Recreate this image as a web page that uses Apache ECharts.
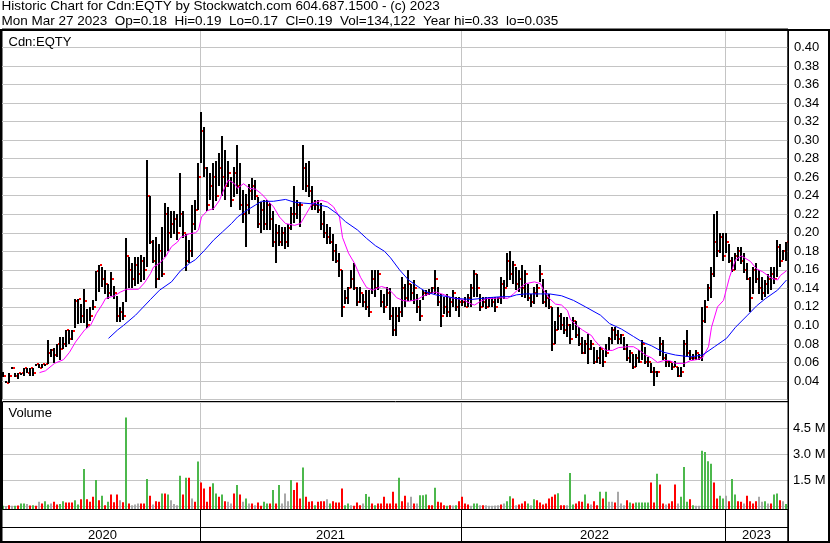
<!DOCTYPE html>
<html><head><meta charset="utf-8">
<script src="https://cdn.jsdelivr.net/npm/echarts@6/dist/echarts.min.js"></script>
<style>html,body{margin:0;padding:0;background:#fff}#c{width:830px;height:543px}</style>
</head><body><div id="c"></div>
<script>
const headerLine1 = 'Historic Chart for Cdn:EQTY by Stockwatch.com 604.687.1500 - (c) 2023';
const headerLine2 = 'Mon Mar 27 2023  Op=0.18  Hi=0.19  Lo=0.17  Cl=0.19  Vol=134,122  Year hi=0.33  lo=0.035';
const priceTitle = 'Cdn:EQTY';
const volTitle = 'Volume';
const years = ['2020', '2021', '2022', '2023'];
const yearStart = [0, 66, 153, 241]; // bar index where each year begins

// price bars (cents): high, low, close
const hiC = [
5.0,4.0,4.9,5.5,4.9,4.9,4.9,5.4,5.4,5.4,
5.4,5.8,5.8,5.8,5.8,8.4,7.5,7.6,8.0,8.8,
8.8,9.5,9.5,9.5,12.9,12.9,12.3,13.9,11.8,12.0,
12.7,15.9,16.5,16.3,16.0,14.5,15.8,14.3,13.2,12.0,
12.5,19.4,17.4,16.7,17.4,17.4,17.6,17.4,27.9,24.0,
19.2,19.5,18.8,20.6,23.2,22.8,22.4,22.4,22.0,26.4,
22.4,19.9,19.2,23.0,23.5,27.5,33.0,31.4,27.1,26.4,
27.5,27.8,28.6,30.4,28.9,27.8,26.0,27.1,29.5,27.5,
24.6,24.2,25.3,25.9,25.7,23.9,23.3,23.5,23.5,23.2,
22.4,21.0,20.8,20.6,20.6,21.0,22.8,25.0,23.5,23.3,
29.5,27.5,27.8,25.0,23.5,23.5,23.2,22.4,21.0,20.6,
19.9,18.8,17.8,16.0,13.8,14.1,16.0,16.7,14.1,14.1,
13.4,13.8,13.8,16.0,16.0,16.0,13.8,13.4,14.1,14.0,
12.0,12.0,12.0,15.2,14.5,16.0,14.5,14.9,13.4,12.7,
13.8,13.8,13.9,14.1,16.0,14.1,13.4,13.1,13.4,13.1,
13.8,13.1,13.1,12.7,13.1,13.4,14.5,16.0,15.6,13.4,
13.1,13.1,13.1,13.1,13.1,13.1,15.2,14.9,17.8,18.0,
17.0,16.3,16.0,16.5,16.0,14.5,13.4,14.1,14.5,16.5,
15.0,13.8,13.4,12.0,10.5,12.0,11.3,10.9,10.9,10.2,
10.9,10.5,9.8,8.7,8.4,9.1,8.4,7.7,7.3,7.7,
7.3,8.0,8.7,9.8,9.8,9.5,9.1,8.7,8.0,7.3,
6.9,6.9,7.3,8.4,7.7,6.6,5.9,5.5,5.1,8.7,
8.4,6.9,6.2,5.9,6.2,5.5,5.5,8.4,9.5,7.3,
6.9,7.3,6.9,12.0,12.7,14.5,16.3,22.0,22.4,20.0,
20.0,20.0,18.8,17.4,17.8,18.5,18.5,17.8,16.7,15.2,
16.3,16.7,16.0,15.2,14.9,15.6,16.3,16.3,19.2,18.8,
18.1,19.0];
const loC = [
4.5,3.8,3.8,5.4,4.5,4.2,4.8,4.5,4.9,4.5,
4.5,5.7,5.4,5.4,5.7,5.8,6.6,6.0,6.6,6.3,
7.5,7.7,8.0,8.4,9.8,10.2,10.2,10.2,9.8,10.5,
11.6,12.7,13.6,14.1,13.4,12.9,13.2,12.9,10.4,10.4,
10.6,12.5,14.0,14.0,14.3,14.5,14.7,14.9,16.3,18.8,
16.7,14.0,14.9,15.2,17.4,18.1,19.5,19.9,19.2,20.6,
19.5,15.9,16.7,17.4,20.3,22.4,27.5,26.0,22.4,23.5,
22.4,23.5,25.0,23.9,23.5,25.0,22.8,23.9,24.2,22.4,
21.0,18.5,22.1,23.5,23.5,20.6,19.9,20.3,20.3,20.3,
18.5,16.8,18.5,18.5,18.2,18.5,20.3,21.0,21.4,20.6,
24.6,24.4,23.9,22.4,22.4,22.1,20.3,19.5,18.8,18.8,
17.0,16.7,15.2,10.9,12.3,12.3,14.1,13.8,12.0,12.4,
12.0,11.6,10.9,13.4,13.1,13.8,12.0,11.3,12.0,10.5,
8.9,8.9,10.4,10.9,12.0,12.7,12.7,12.3,11.3,10.4,
12.7,13.1,13.3,13.4,13.4,12.0,9.8,11.3,10.9,10.9,
12.0,11.6,10.9,12.0,12.0,12.0,12.0,13.1,13.1,11.6,
12.0,11.8,12.0,12.0,11.5,12.4,12.3,12.9,14.1,14.9,
14.5,13.8,13.6,13.0,13.0,12.7,12.0,12.3,13.1,14.7,
12.3,12.0,11.8,7.3,8.0,9.5,9.5,9.1,8.7,8.0,
9.5,8.7,7.7,6.9,6.9,5.9,7.3,5.9,5.9,5.9,
5.5,6.6,7.3,8.0,8.4,8.0,8.0,7.3,6.2,5.9,
5.3,5.5,5.9,6.2,5.9,5.5,4.8,3.4,4.4,6.6,
6.2,5.5,5.5,5.1,5.5,4.4,4.4,5.5,6.6,6.2,
6.2,6.2,6.2,6.2,10.2,12.7,13.0,15.2,17.4,17.8,
17.0,17.8,16.7,15.8,16.0,17.0,16.7,15.6,14.9,11.4,
13.4,14.5,13.4,12.7,13.1,13.4,13.8,14.5,15.2,16.3,
17.0,17.0];
const clC = [
4.5,3.8,4.5,5.4,4.5,4.9,4.9,5.4,4.9,5.4,
4.9,5.8,5.4,5.8,5.8,7.0,7.3,6.8,8.0,7.5,
8.0,9.5,8.5,9.4,12.6,12.9,11.0,12.6,10.0,11.0,
12.0,15.9,16.5,15.0,14.5,13.5,15.0,13.5,11.0,11.5,
11.0,17.5,16.0,15.0,16.5,15.5,17.0,16.0,24.0,19.0,
17.0,15.0,18.0,15.5,22.0,20.0,21.0,21.5,20.0,22.0,
20.0,17.0,18.0,21.0,22.5,26.0,31.0,27.0,23.0,25.0,
26.0,24.0,27.0,26.0,25.0,26.5,23.5,26.5,25.0,23.0,
22.0,23.0,24.5,25.0,24.0,21.0,22.5,21.0,23.0,21.5,
19.0,20.0,19.0,20.0,19.0,20.5,22.0,22.0,23.0,23.0,
27.0,25.0,24.5,23.0,23.0,22.5,21.0,20.0,19.5,19.0,
18.0,17.0,16.0,12.0,13.0,14.0,15.0,14.0,12.5,13.5,
12.5,12.0,11.5,15.0,14.0,15.5,12.5,12.0,13.5,11.0,
9.5,11.0,11.5,14.0,13.0,14.5,13.5,14.0,12.0,11.0,
13.5,13.5,13.5,14.0,15.0,12.5,11.0,12.0,11.5,12.5,
13.5,12.0,12.5,12.5,12.0,13.0,14.0,15.5,14.0,12.0,
12.5,12.0,13.0,12.5,12.0,13.0,14.5,14.0,17.0,15.5,
16.5,14.5,15.0,14.0,15.5,13.0,12.5,13.5,14.0,15.5,
12.5,13.0,12.0,8.0,9.5,11.0,10.0,9.5,10.0,8.5,
10.5,9.0,8.0,7.0,8.0,7.5,8.0,6.0,6.5,7.5,
6.0,7.0,8.5,9.5,9.0,8.5,9.0,7.5,6.5,7.0,
5.5,6.5,6.0,8.0,6.0,6.0,5.0,5.0,5.0,8.0,
6.5,6.0,6.0,5.5,5.5,4.5,5.0,8.0,7.0,6.5,
6.5,7.0,6.5,10.5,12.0,14.0,15.5,19.0,18.0,19.5,
17.5,19.0,17.0,16.0,17.5,18.0,17.0,16.0,15.0,13.0,
16.0,15.0,14.0,13.5,14.5,15.0,15.5,15.0,18.5,17.0,
18.0,19.0];

// volume (thousands of shares) and direction: g = up, r = down, n = unchanged
const volK = [
20,15,58,20,30,40,155,155,130,40,
60,30,252,155,290,100,155,252,100,120,
290,220,220,220,349,100,407,2150,407,252,
542,1510,349,600,58,252,680,230,680,349,
230,5130,155,58,100,155,155,155,1570,600,
100,290,252,736,736,678,349,120,60,1760,
678,1650,1650,445,252,2580,1375,1030,252,1120,
1320,736,542,678,290,252,155,736,1220,678,
252,445,155,155,60,220,30,252,155,155,
930,155,1220,155,736,290,1510,930,1375,445,
2230,542,252,290,58,252,290,290,407,155,
290,220,220,1030,58,155,58,30,220,58,
155,700,542,155,58,155,155,542,155,155,
833,155,1650,290,600,220,542,155,155,639,
639,678,58,58,1060,252,220,58,30,58,
40,58,290,542,155,100,20,155,155,58,
58,58,20,20,40,58,100,155,290,570,
445,58,100,155,290,155,58,407,349,220,
100,155,445,542,678,750,58,58,58,1920,
100,155,290,252,678,155,100,290,58,833,
445,833,252,252,220,833,155,58,349,220,
155,220,220,220,220,220,1375,220,1870,1250,
155,100,155,290,1250,155,542,2270,252,407,
58,20,20,3200,3130,2600,2460,1375,445,600,
445,600,290,1570,678,290,252,155,600,290,
155,290,542,252,290,155,155,678,736,349,
290,134];
const volDir = [
'gnrngrggnr','grnrggnrrg','grrrggrgrr','rgrgrgrrrn','rgrnnnrrgr',
'nrrgrgnnng','rgrnrgrrrr','ggrgrnnrgr','ngnrnrrggr','grgnnngrrr',
'grrrgrrrng','rrrrggnrrr','nggrgrrrrr','rrgrrnnrng','ggrrgrrrgr',
'ngrrrrnggn','rnnnnnrngg','rnrrrgngrr','rrrrrgrrng','grrrgrnrrg',
'rgnnrnnnrg','rgggggrrgr','rnrrrngggr','gnnggggrrg','gnrggrrnrr',
'rrnngnrggr','ng'].join('');

// moving averages: [bar index, cents]
const maFast = [[12,4.9],[14,5.1],[17,5.9],[20,6.3],[22,7.1],[24,8.2],[27,9.5],[29,10.0],[31,11.3],[33,12.3],
[34,12.9],[37,13.2],[39,13.6],[41,13.9],[45,13.9],[47,14.6],[49,15.6],[50,16.3],[52,16.7],[54,17.4],
[56,18.5],[58,19.0],[59,19.5],[62,19.9],[64,20.0],[65,20.3],[66,21.7],[68,22.4],[70,22.6],[72,23.5],
[74,25.1],[75,25.7],[77,25.3],[78,24.8],[80,25.3],[82,24.8],[84,24.7],[86,24.2],[88,23.5],[90,22.8],
[92,21.7],[94,21.0],[97,20.8],[99,21.0],[101,22.1],[103,23.2],[106,23.5],[108,23.3],[110,22.8],[112,21.7],
[113,19.5],[115,17.8],[117,16.7],[119,15.2],[121,14.1],[123,13.8],[126,14.2],[128,14.0],[130,13.4],[131,13.0],
[133,12.7],[135,12.6],[138,12.8],[140,13.2],[142,13.4],[144,13.6],[147,13.3],[149,13.0],[151,12.9],[153,12.8],
[156,12.3],[157,12.2],[159,12.6],[161,12.9],[163,12.9],[166,13.0],[168,12.9],[170,13.4],[172,14.0],[174,14.5],
[177,14.7],[179,14.5],[180,13.8],[182,12.9],[184,12.3],[186,12.2],[188,11.6],[189,10.6],[191,10.0],[193,9.5],
[196,8.9],[197,8.4],[199,7.7],[201,7.3],[203,7.3],[205,7.6],[208,7.7],[210,7.7],[212,7.3],[214,6.8],
[216,6.5],[218,6.0],[220,6.2],[222,6.2],[224,5.9],[227,5.9],[229,6.2],[231,6.3],[233,6.5],[235,7.7],
[236,9.8],[238,12.0],[240,12.7],[242,15.2],[244,17.1],[246,17.5],[249,16.9],[251,16.1],[253,15.8],[256,15.1],
[258,14.9],[259,15.4],[261,15.9]];
const maSlow = [[35,8.6],[38,9.5],[40,10.0],[44,11.1],[49,12.8],[52,13.8],[56,14.7],[59,15.9],[62,16.7],[64,17.1],
[67,18.1],[70,19.2],[73,20.1],[76,21.0],[78,21.7],[81,22.4],[84,23.0],[86,23.4],[90,23.4],[94,23.6],
[97,23.3],[100,23.2],[104,23.1],[108,22.8],[111,22.1],[114,21.2],[118,20.3],[121,19.4],[124,18.6],[127,18.0],
[129,17.3],[132,16.0],[135,14.9],[139,14.0],[141,13.6],[144,13.3],[148,13.1],[151,12.9],[156,12.8],[159,12.9],
[162,13.0],[166,13.1],[169,13.1],[171,13.3],[174,13.4],[179,13.4],[182,13.4],[186,13.2],[190,12.7],[194,12.0],
[199,11.1],[202,10.2],[206,9.6],[210,8.8],[213,8.2],[216,7.8],[220,7.1],[224,6.8],[229,6.6],[233,6.8],
[237,7.7],[241,8.6],[244,9.8],[248,11.1],[251,12.1],[254,12.9],[258,13.8],[261,14.9]];

const FONT = "'Liberation Sans', Arial, sans-serif";
const N = hiC.length;
const cats = hiC.map((_, i) => String(i));
const yearOf = i => { let y = 0; yearStart.forEach((s, k) => { if (i >= s) y = k; }); return y; };
const yearLabelIdx = yearStart.map((s, k) => Math.floor((s + (k + 1 < yearStart.length ? yearStart[k + 1] : N)) / 2));
const isYearStart = idx => idx > 0 && yearStart.indexOf(idx) >= 0;
const dirColor = { g: '#4cb84c', r: '#ff0000', n: '#a8a8a8' };

const ohlc = hiC.map((h, i) => [i, h / 100, loC[i] / 100, clC[i] / 100]);
const vols = volK.map((v, i) => ({ value: [i, v * 1000], itemStyle: { color: dirColor[volDir[i]] } }));
const fastLine = maFast.map(p => [p[0], p[1] / 100]);
const slowLine = maSlow.map(p => [p[0], p[1] / 100]);

const GRID_GRAY = '#c4c4c4';
const hidden = { show: false };

function renderBar(params, api) {
  const i = api.value(0);
  const ph = api.coord([i, api.value(1)]);
  const pl = api.coord([i, api.value(2)]);
  const pc = api.coord([i, api.value(3)]);
  const x0 = Math.round(ph[0] - 1.5);
  const top = Math.round(Math.min(ph[1], pl[1]));
  const h = Math.max(Math.round(Math.abs(pl[1] - ph[1])), 2);
  return { type: 'group', children: [
    { type: 'rect', shape: { x: x0 + 2, y: Math.round(pc[1]) - 1, width: 2, height: 2 }, style: { fill: '#ff0000' } },
    { type: 'rect', shape: { x: x0, y: top, width: 2, height: h }, style: { fill: '#000' } }
  ] };
}
function renderVol(params, api) {
  const p = api.coord([api.value(0), api.value(1)]);
  const cs = params.coordSys;
  const bottom = cs.y + cs.height + 3.2;
  return { type: 'rect', shape: { x: Math.round(p[0] - 1.5), y: p[1], width: 2, height: bottom - p[1] },
    style: { fill: api.visual('color') } };
}

const chart = echarts.init(document.getElementById('c'));
const txt = { fontSize: 13, fontWeight: 'normal', color: '#000', fontFamily: FONT };
const headTxt = Object.assign({}, txt, { fontSize: 13.5 });
chart.setOption({
  animation: false,
  backgroundColor: '#fff',
  title: [
    { text: headerLine1, left: 1.5, top: -0.5, padding: 0, textStyle: headTxt },
    { text: headerLine2, left: 1.5, top: 14.5, padding: 0, textStyle: headTxt },
    { text: priceTitle, left: 8.5, top: 35.5, padding: 0, textStyle: txt },
    { text: volTitle, left: 8.5, top: 407, padding: 0, textStyle: txt }
  ],
  grid: [
    { left: 2, top: 29, width: 786, height: 370.5, show: true, borderColor: '#000', borderWidth: 1, backgroundColor: 'transparent' },
    { left: 2, top: 402.4, width: 786, height: 103.8, show: false },
    { left: 2, top: 509.5, width: 786, height: 32, show: true, borderColor: '#000', borderWidth: 1, backgroundColor: 'transparent' }
  ],
  xAxis: [
    { gridIndex: 0, type: 'category', data: cats, boundaryGap: true, axisLine: hidden, axisTick: hidden, axisLabel: hidden,
      splitLine: { show: true, interval: isYearStart, lineStyle: { color: GRID_GRAY, width: 1 } } },
    { gridIndex: 1, type: 'category', data: cats, boundaryGap: true, axisLine: hidden, axisTick: hidden, axisLabel: hidden,
      splitLine: { show: true, interval: isYearStart, lineStyle: { color: GRID_GRAY, width: 1 } } },
    { gridIndex: 2, type: 'category', data: cats, boundaryGap: true, axisLine: hidden, axisTick: hidden,
      axisLabel: { show: true, inside: true, margin: 0, interval: idx => yearLabelIdx.indexOf(idx) >= 0,
        formatter: (v, idx) => years[yearOf(idx)], fontSize: 13, color: '#000', fontFamily: FONT },
      splitLine: { show: true, interval: isYearStart, lineStyle: { color: '#000', width: 1 } } }
  ],
  yAxis: [
    { gridIndex: 0, type: 'value', position: 'right', min: 0.02, max: 0.42, interval: 0.02,
      axisLine: hidden, axisTick: hidden,
      axisLabel: { formatter: v => v.toFixed(2), showMinLabel: false, showMaxLabel: false, margin: 6, fontSize: 13, color: '#000', fontFamily: FONT },
      splitLine: { show: true, lineStyle: { color: GRID_GRAY, width: 1 } } },
    { gridIndex: 1, type: 'value', position: 'right', min: 0, max: 6000000, interval: 1500000,
      axisLine: hidden, axisTick: hidden,
      axisLabel: { formatter: v => (v / 1e6).toFixed(1) + ' M', showMinLabel: false, showMaxLabel: false, margin: 5, fontSize: 13, color: '#000', fontFamily: FONT },
      splitLine: { show: true, lineStyle: { color: GRID_GRAY, width: 1 } } },
    { gridIndex: 2, type: 'value', show: false }
  ],
  graphic: [
    { type: 'rect', silent: true, z: 100, shape: { x: 2.5, y: 401.5, width: 786, height: 108 }, style: { fill: 'none', stroke: '#000', lineWidth: 1 } },
    { type: 'line', silent: true, z: 100, shape: { x1: 2, y1: 527.5, x2: 788, y2: 527.5 }, style: { stroke: '#000', lineWidth: 1 } },
    { type: 'rect', silent: true, z: 100, shape: { x: 0, y: 29, width: 830, height: 2 }, style: { fill: '#000' } },
    { type: 'rect', silent: true, z: 100, shape: { x: 0, y: 29, width: 2, height: 514 }, style: { fill: '#000' } },
    { type: 'rect', silent: true, z: 100, shape: { x: 828, y: 29, width: 2, height: 514 }, style: { fill: '#000' } },
    { type: 'rect', silent: true, z: 100, shape: { x: 0, y: 541, width: 830, height: 2 }, style: { fill: '#000' } },
    { type: 'rect', silent: true, z: 100, shape: { x: 787.5, y: 29, width: 1.5, height: 514 }, style: { fill: '#000' } }
  ],
  series: [
    { type: 'custom', name: 'Price', xAxisIndex: 0, yAxisIndex: 0, data: ohlc, renderItem: renderBar,
      encode: { x: 0, y: [1, 2, 3] }, z: 2 },
    { type: 'line', name: 'MA fast', xAxisIndex: 0, yAxisIndex: 0, data: fastLine, showSymbol: false, symbol: 'none',
      lineStyle: { color: '#ff00ff', width: 1 }, z: 3 },
    { type: 'line', name: 'MA slow', xAxisIndex: 0, yAxisIndex: 0, data: slowLine, showSymbol: false, symbol: 'none',
      lineStyle: { color: '#0000ff', width: 1 }, z: 3 },
    { type: 'custom', name: 'Volume', xAxisIndex: 1, yAxisIndex: 1, data: vols, renderItem: renderVol,
      encode: { x: 0, y: 1 }, z: 2 }
  ]
});
</script>
</body></html>
